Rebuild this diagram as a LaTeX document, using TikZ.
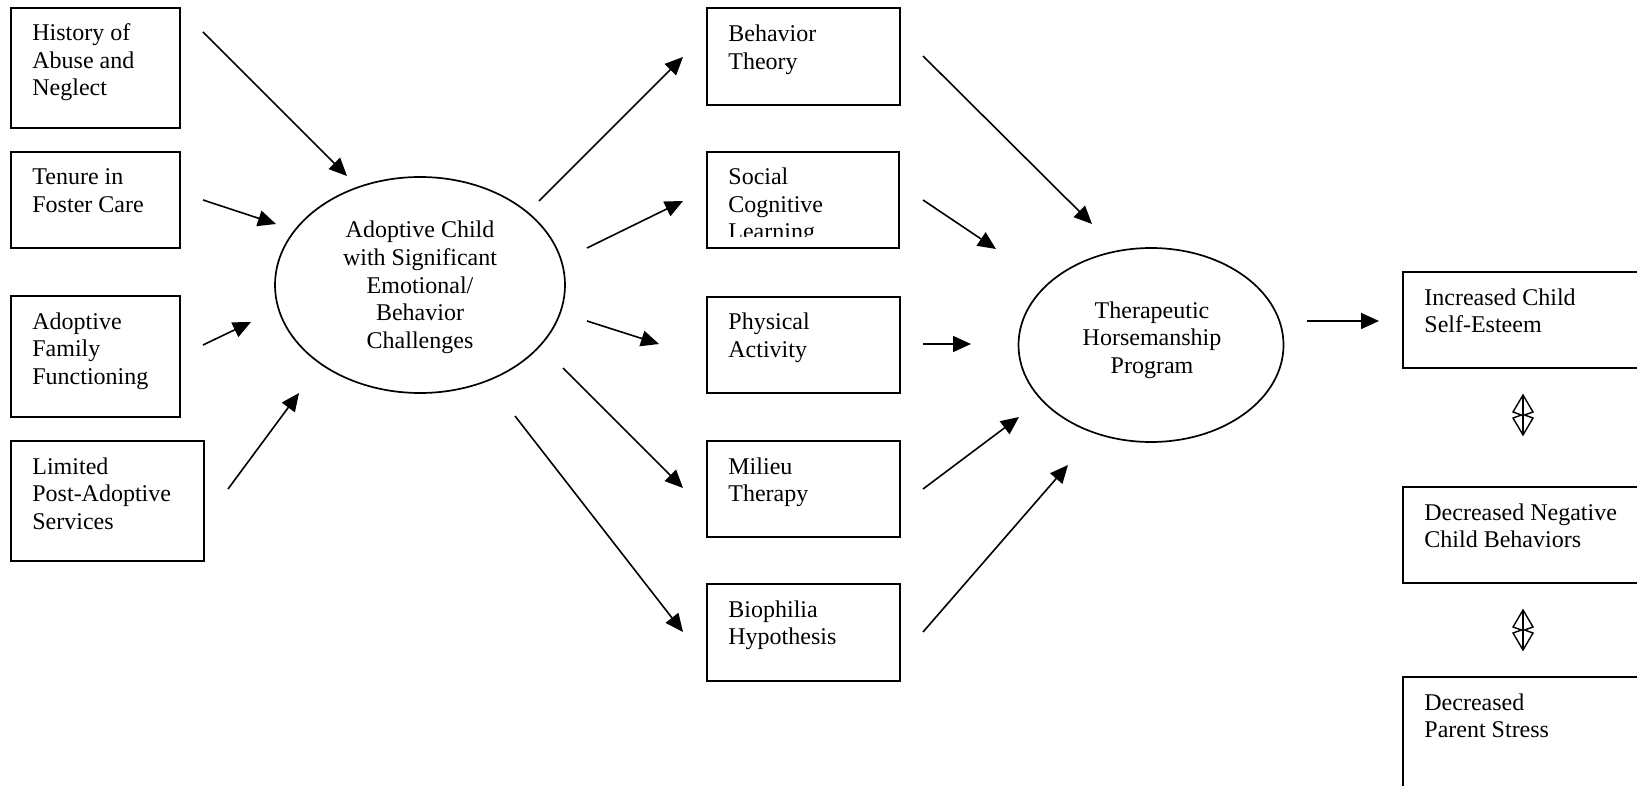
\documentclass[tikz,border=0pt]{standalone}
\usepackage{fontspec}
\setmainfont{Liberation Serif}
\usetikzlibrary{arrows.meta,shapes.geometric}
\begin{document}
\begin{tikzpicture}[x=0.5pt,y=-0.5pt,
  every node/.style={font=\fontsize{12}{13.75}\selectfont},
  box/.style={draw, line width=0.9pt, inner sep=0pt, outer sep=0pt, anchor=north west},
  oval/.style={draw, ellipse, line width=0.85pt, inner sep=0pt, outer sep=0pt},
  % labels are placed by the baseline of their last line
  lbl/.style={anchor=base west, align=left, inner sep=0pt},
  clbl/.style={anchor=base, align=center, inner sep=0pt},
  arr/.style={line width=0.8pt, -{Triangle[length=9pt,width=8pt]}},
  updown/.pic={
    \draw[line width=0.7pt, line join=miter]
      (0,0) -- (10,17) -- (1.5,20) -- (10,23) -- (0,40) -- (-10,23) -- (-1.5,20) -- (-10,17) -- cycle;
    \draw[line width=0.7pt] (0,0) -- (0,40);
  }
]
\path[use as bounding box, clip] (0,0) rectangle (1637,786);

% input factors
\node[box, minimum width=84.5pt, minimum height=60pt] (hist) at (11,8) {};
\node[box, minimum width=84.5pt, minimum height=48pt] (tenure) at (11,152) {};
\node[box, minimum width=84.5pt, minimum height=60.5pt] (family) at (11,296) {};
\node[box, minimum width=96.5pt, minimum height=60pt] (limited) at (11,441) {};
\node[lbl] (hist-t) at (32,96) {History of\\Abuse and\\Neglect};
\node[lbl] (tenure-t) at (32,212.5) {Tenure in\\Foster Care};
\node[lbl] (family-t) at (32,384) {Adoptive\\Family\\Functioning};
\node[lbl] (limited-t) at (32,529) {Limited\\Post-Adoptive\\Services};

% central child ellipse
\node[oval, minimum width=145pt, minimum height=108pt] (adopt) at (420,285) {};
\node[clbl] (adopt-t) at (420,348) {Adoptive Child\\with Significant\\Emotional/\\Behavior\\Challenges};

% theories
\node[box, minimum width=96.5pt, minimum height=48.5pt] (behav) at (707,8) {};
\node[box, minimum width=96pt, minimum height=48pt] (social) at (707,152) {};
\node[box, minimum width=96.5pt, minimum height=48pt] (phys) at (707,297) {};
\node[box, minimum width=96.5pt, minimum height=48pt] (milieu) at (707,441) {};
\node[box, minimum width=96.5pt, minimum height=48.5pt] (bio) at (707,584) {};
\node[lbl] (behav-t) at (728,69.5) {Behavior\\Theory};
\begin{scope}
  \clip (707,152) rectangle (899,237);
  \node[lbl] (social-t) at (728,240) {Social\\Cognitive\\Learning};
\end{scope}
\node[lbl] (phys-t) at (728,357.5) {Physical\\Activity};
\node[lbl] (milieu-t) at (728,501.5) {Milieu\\Therapy};
\node[lbl] (bio-t) at (728,644.5) {Biophilia\\Hypothesis};

% program ellipse
\node[oval, minimum width=132.5pt, minimum height=97pt] (ther) at (1151,345) {};
\node[clbl] (ther-t) at (1152,373) {Therapeutic\\Horsemanship\\Program};

% outcomes
\node[box, minimum width=130pt, minimum height=48pt] (inc) at (1403,272) {};
\node[box, minimum width=130pt, minimum height=48pt] (dec) at (1403,487) {};
\node[box, minimum width=130pt, minimum height=60pt] (par) at (1403,677) {};
\node[lbl] (inc-t) at (1424,332.5) {Increased Child\\Self-Esteem};
\node[lbl] (dec-t) at (1424,547.5) {Decreased Negative\\Child Behaviors};
\node[lbl] (par-t) at (1424,737.5) {Decreased\\Parent Stress};

% connector end points
\coordinate (hist-o) at (203,32);     \coordinate (adopt-i1) at (347,176);
\coordinate (tenure-o) at (203,200);  \coordinate (adopt-i2) at (276,224);
\coordinate (family-o) at (203,345);  \coordinate (adopt-i3) at (251,322);
\coordinate (limited-o) at (228,489); \coordinate (adopt-i4) at (299,393);
\coordinate (adopt-o1) at (539,201);  \coordinate (behav-i) at (683,57);
\coordinate (adopt-o2) at (587,248);  \coordinate (social-i) at (683,201);
\coordinate (adopt-o3) at (587,321);  \coordinate (phys-i) at (659,344);
\coordinate (adopt-o4) at (563,368);  \coordinate (milieu-i) at (683,488);
\coordinate (adopt-o5) at (515,416);  \coordinate (bio-i) at (683,632);
\coordinate (behav-o) at (923,56);    \coordinate (ther-i1) at (1092,224);
\coordinate (social-o) at (923,200);  \coordinate (ther-i2) at (996,249);
\coordinate (phys-o) at (923,344);    \coordinate (ther-i3) at (971,344);
\coordinate (milieu-o) at (923,489);  \coordinate (ther-i4) at (1019,417);
\coordinate (bio-o) at (923,632);     \coordinate (ther-i5) at (1068,465);
\coordinate (ther-o) at (1307,321);   \coordinate (inc-i) at (1379,321);

% connectors
\draw[arr] (hist-o) -- (adopt-i1);
\draw[arr] (tenure-o) -- (adopt-i2);
\draw[arr] (family-o) -- (adopt-i3);
\draw[arr] (limited-o) -- (adopt-i4);
\draw[arr] (adopt-o1) -- (behav-i);
\draw[arr] (adopt-o2) -- (social-i);
\draw[arr] (adopt-o3) -- (phys-i);
\draw[arr] (adopt-o4) -- (milieu-i);
\draw[arr] (adopt-o5) -- (bio-i);
\draw[arr] (behav-o) -- (ther-i1);
\draw[arr] (social-o) -- (ther-i2);
\draw[arr] (phys-o) -- (ther-i3);
\draw[arr] (milieu-o) -- (ther-i4);
\draw[arr] (bio-o) -- (ther-i5);
\draw[arr] (ther-o) -- (inc-i);

% two-way links between outcomes
\pic at (1523,395) {updown};
\pic at (1523,610) {updown};
\end{tikzpicture}
\end{document}
